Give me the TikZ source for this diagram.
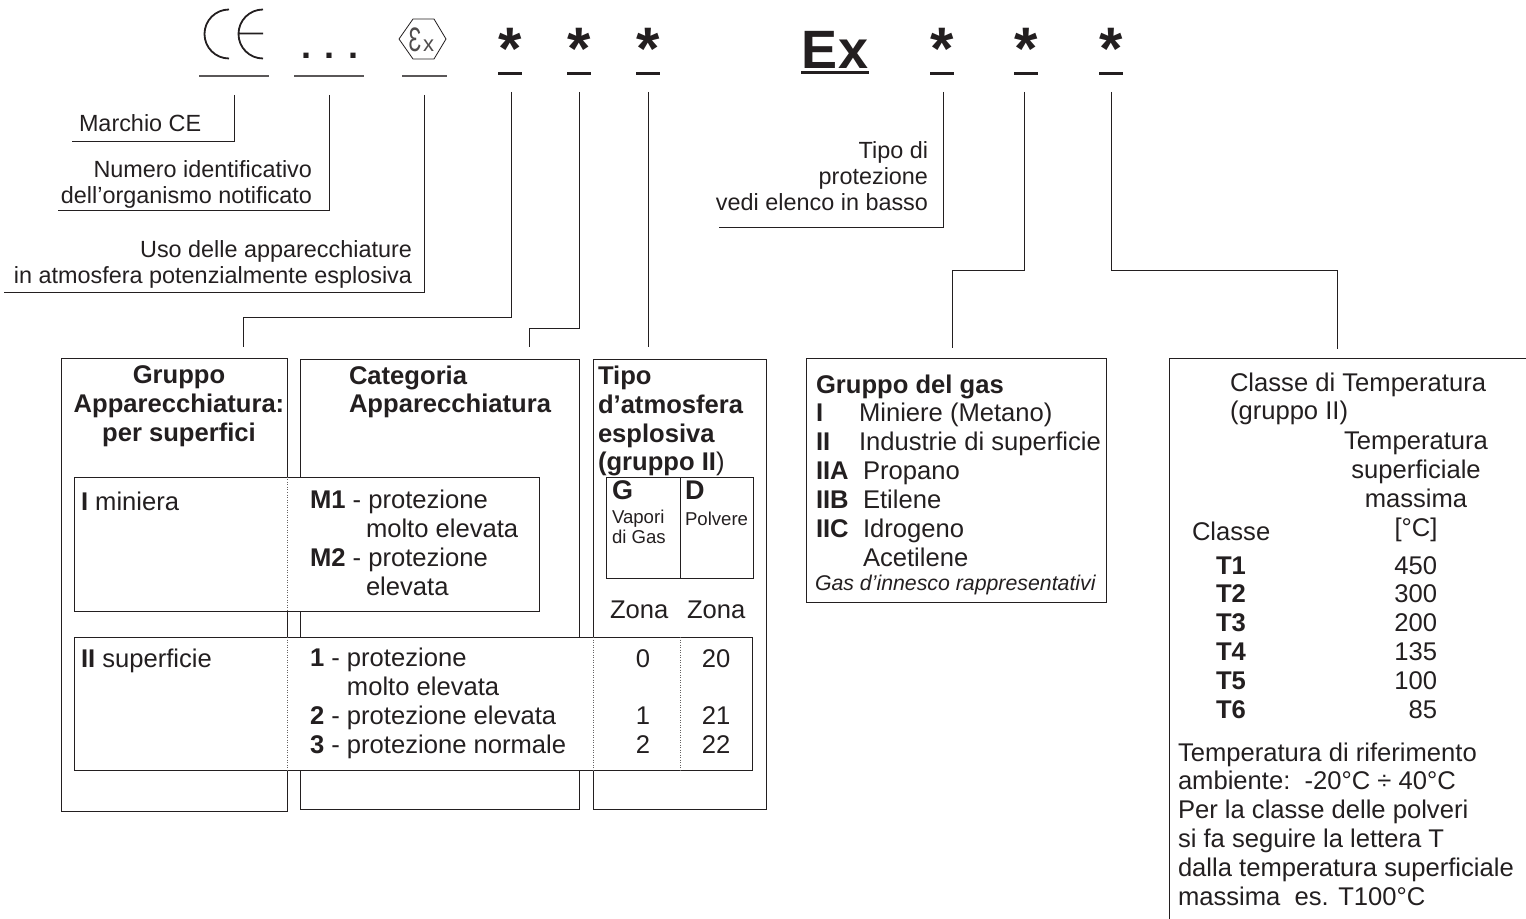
\documentclass[tikz,border=0pt]{standalone}
\usepackage{fontspec}
\setmainfont{Liberation Sans}
\usetikzlibrary{calc,positioning}
\definecolor{ink}{HTML}{231F20}
\tikzset{
    x=0.5pt,y=-0.5pt,
    wire/.style = {draw=ink, line width=0.42pt},
    seam/.style = {draw=ink!70, line width=0.25pt, densely dotted},
    bar/.style = {draw=ink, line width=1.5pt},
    panel/.style = {rectangle, draw=ink, line width=0.42pt, inner sep=0pt, outer sep=0pt},
    band/.style = {panel, fill=white},
    txt/.style = {inner sep=0pt, outer sep=0pt, text=ink, font=\fontsize{12.8}{14.4}\selectfont, anchor=base west},
    ttl/.style = {txt, font=\fontsize{12.8}{14.4}\selectfont\bfseries},
    note/.style = {txt, font=\fontsize{11.7}{13}\selectfont, align=right, anchor=base east},
    tiny/.style = {txt, font=\fontsize{9.3}{10}\selectfont, align=left},
    body/.style = {txt, font=\fontsize{12.8}{14.4}\selectfont, align=left},
    starmark/.style = {txt, font=\fontsize{30}{30}\selectfont\bfseries, anchor=base}
}
\begin{document}
\begin{tikzpicture}
    \useasboundingbox (0,0) rectangle (1526,919);

    % marks on the top row
    \draw[wire, line width=0.9pt] (229,9.5) arc (90:270:12.25pt);
    \draw[wire, line width=0.9pt] (263,9.5) arc (90:270:12.25pt) (238,33.5) -- (263,33.5);
    \draw[wire, draw=ink!75, line width=0.7pt] (199,76) -- (269,76) (294,76) -- (364,76) (402,76) -- (447,76);
    \node[txt, anchor=base, font=\fontsize{18}{18}\selectfont\bfseries] (dots) at (330,59) {. . .};
    \draw[wire, line width=0.4pt] (399,39) -- (413,19) -- (434,19) -- (446,39) -- (434,59) -- (413,59) -- cycle;
    \node[txt, anchor=base, text=ink!80, font=\fontsize{17}{17}\selectfont] (atexE) at (415,52) {\scalebox{0.62}[1]{Ɛ}};
    \node[txt, anchor=base, text=ink!80, font=\fontsize{11}{11}\selectfont] (atexX) at (428.5,52) {x};
    \foreach \n/\x in {sa/510,sb/579,sc/648,sd/942,se/1026,sf/1111} {
        \node[starmark] (\n) at (\x,70) {*};
        \draw[bar] (\x-12,74) -- (\x+12,74);
    }
    \node[txt, anchor=base, font=\fontsize{27}{27}\selectfont\bfseries] (ex) at (835,69) {Ex};
    \draw[bar] (801,73) -- (869,73);

    % frames
    \node[panel, minimum width=113pt, minimum height=226.5pt] (grp) at (174,584.5) {};
    \node[panel, minimum width=139.5pt, minimum height=225pt] (cat) at (439.5,584) {};
    \node[panel, minimum width=86.5pt, minimum height=225pt] (atm) at (679.5,584) {};
    \node[band, minimum width=232.5pt, minimum height=67pt] (bandI) at (306.5,544) {};
    \node[band, minimum width=339pt, minimum height=66.5pt] (bandII) at (413,703.5) {};
    \node[panel, minimum width=73.5pt, minimum height=50.5pt] (gd) at (679.5,527.5) {};
    \node[panel, minimum width=150pt, minimum height=122pt] (gas) at (956,480) {};
    \draw[wire] (680,477) -- (680,578);
    \draw[seam] (287,477) -- (287,611) (287,637) -- (287,770) (593,637) -- (593,770) (680,637) -- (680,770);
    \coordinate (tempTR) at (1526,358);
    \coordinate (tempTL) at (1169,358);
    \coordinate (tempBL) at (1169,919);
    \draw[wire] (tempTR) -- (tempTL) -- (tempBL);

    % start and end of the leaders
    \coordinate (ceA) at (234,95);   \coordinate (ceB) at (72,141);
    \coordinate (numA) at (329,95);  \coordinate (numB) at (58,210);
    \coordinate (usoA) at (424,95);  \coordinate (usoB) at (4,292);
    \coordinate (saA) at (511,92);   \coordinate (saB) at (243,317);  \coordinate (saC) at (243,347);
    \coordinate (sbA) at (579,92);   \coordinate (sbB) at (529,328);  \coordinate (sbC) at (529,347);
    \coordinate (scA) at (648,92);   \coordinate (scB) at (648,347);
    \coordinate (sdA) at (943,92);   \coordinate (sdB) at (719,227);
    \coordinate (seA) at (1024,92);  \coordinate (seB) at (952,270);  \coordinate (seC) at (952,348);
    \coordinate (sfA) at (1111,92);  \coordinate (sfB) at (1337,270); \coordinate (sfC) at (1337,349);
    \draw[wire] (ceA) |- (ceB);
    \draw[wire] (numA) |- (numB);
    \draw[wire] (usoA) |- (usoB);
    \draw[wire] (saA) |- (saB) -- (saC);
    \draw[wire] (sbA) |- (sbB) -- (sbC);
    \draw[wire] (scA) -- (scB);
    \draw[wire] (sdA) |- (sdB);
    \draw[wire] (seA) |- (seB) -- (seC);
    \draw[wire] (sfA) |- (sfB) -- (sfC);

    % leader texts
    \node[txt, font=\fontsize{11.7}{13}\selectfont] (marchio) at (79,132) {Marchio CE};
    \node[note] (numero) at (312,204) {Numero identificativo\\dell’organismo notificato};
    \node[note] (uso) at (412,284) {Uso delle apparecchiature\\in atmosfera potenzialmente esplosiva};
    \node[note] (tipo) at (928,211) {Tipo di\\protezione\\vedi elenco in basso};

    % first three panels
    \node[ttl, align=center, anchor=base] (grpT) at (179,441.5) {Gruppo\\Apparecchiatura:\\per superfici};
    \node[ttl, align=left] (catT) at (349,413) {Categoria\\Apparecchiatura};
    \node[ttl, align=left] (atmT) at (598,471) {Tipo\\d’atmosfera\\esplosiva\\(gruppo II\textmd{)}};
    \node[txt] (minI) at (81,510) {\textbf{I} miniera};
    \node[body] (catM) at (310,595) {\textbf{M1} - protezione\\\hspace*{28pt}molto elevata\\\textbf{M2} - protezione\\\hspace*{28pt}elevata};
    \node[txt] (supII) at (81,667) {\textbf{II} superficie};
    \node[body] (catN) at (310,753) {\textbf{1} - protezione\\\phantom{\textbf{1} - }molto elevata\\\textbf{2} - protezione elevata\\\textbf{3} - protezione normale};
    \node[ttl, font=\fontsize{13.5}{14}\selectfont\bfseries] (gG) at (612,500) {G};
    \node[ttl, font=\fontsize{13.5}{14}\selectfont\bfseries] (gD) at (685,500) {D};
    \node[tiny] (vapori) at (612,544) {Vapori\\di Gas};
    \node[tiny] (polvere) at (685,525) {Polvere};
    \node[txt] (zonaG) at (610,618) {Zona};
    \node[txt] (zonaD) at (687,618) {Zona};
    \foreach \y/\g/\d in {667/0/20,724/1/21,753/2/22} {
        \node[txt, anchor=base] at (643,\y) {\g};
        \node[txt, anchor=base] at (716,\y) {\d};
    }

    % gas panel
    \node[ttl] (gasT) at (816,394) {Gruppo del gas};
    \foreach \y/\c/\xn/\t in {422/I/859/Miniere (Metano),451/II/859/Industrie di superficie,480/IIA/863/Propano,509/IIB/863/Etilene,538/IIC/863/Idrogeno} {
        \node[ttl] at (816,\y) {\c};
        \node[txt] at (\xn,\y) {\t};
    }
    \node[txt] (acet) at (863,566) {Acetilene};
    \node[txt, font=\fontsize{10.65}{12}\selectfont\itshape] (innesco) at (815,590) {Gas d’innesco rappresentativi};

    % temperature panel
    \node[body] (tempT) at (1230,420) {Classe di Temperatura\\(gruppo II)};
    \node[body, align=center, anchor=base] (tempS) at (1416,536) {Temperatura\\superficiale\\massima\\{[°C]}};
    \node[body] (classe) at (1192,540) {Classe};
    \foreach \y/\c/\v in {574/T1/450,602/T2/300,631/T3/200,660/T4/135,689/T5/100,718/T6/85} {
        \node[ttl] at (1216,\y) {\c};
        \node[txt, anchor=base east] at (1437,\y) {\v};
    }
    \node[body] (rif) at (1178,905) {Temperatura di riferimento\\ambiente:\ \ -20°C ÷ 40°C\\Per la classe delle polveri\\si fa seguire la lettera T\\dalla temperatura superficiale\\massima\ \ es. T100°C};

\end{tikzpicture}
\end{document}
